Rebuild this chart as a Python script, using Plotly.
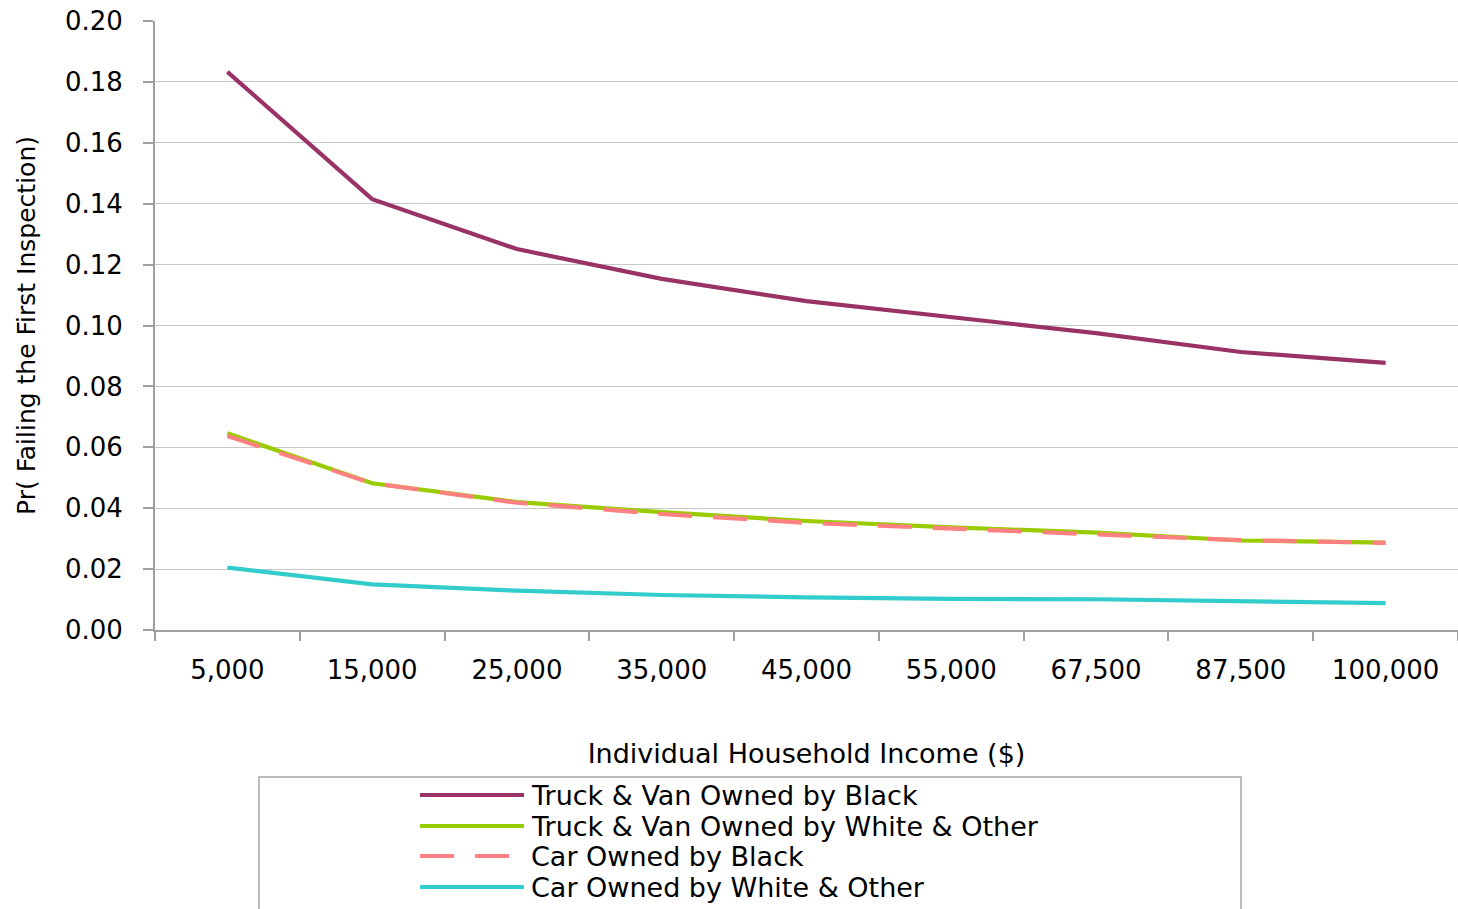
import plotly.graph_objects as go

# Household income categories (x axis)
income = ["5,000", "15,000", "25,000", "35,000", "45,000",
          "55,000", "67,500", "87,500", "100,000"]

# Probability of failing the first inspection, by vehicle type / owner group
truck_black = [0.1833, 0.1415, 0.1251, 0.1153, 0.1080, 0.1028, 0.0975, 0.0913, 0.0877]
truck_white = [0.0646, 0.0482, 0.0420, 0.0387, 0.0358, 0.0337, 0.0320, 0.0294, 0.0287]
car_black = [0.0637, 0.0482, 0.0418, 0.0381, 0.0352, 0.0332, 0.0315, 0.0295, 0.0286]
car_white = [0.0205, 0.0150, 0.0129, 0.0115, 0.0107, 0.0102, 0.0101, 0.0095, 0.0088]

series_names = ["Truck & Van Owned by Black", "Truck & Van Owned by White & Other",
                "Car Owned by Black", "Car Owned by White & Other"]
series_values = [truck_black, truck_white, car_black, car_white]
series_colors = ["#993366", "#99CC00", "#FF8080", "#33CCCC"]
series_dash = ["solid", "solid", "34px,21px", "solid"]

W, H = 1458, 909
ML, MR, MT, MB = 155, 0, 21, 279
PW, PH = W - ML - MR, H - MT - MB
FONT = "DejaVu Sans, Liberation Sans, Arial, sans-serif"


def fx(px):
    return (px - ML) / PW


def fy(py):
    return (H - MB - py) / PH


fig = go.Figure()
for name, vals, col, dash in zip(series_names, series_values, series_colors, series_dash):
    fig.add_trace(go.Scatter(
        x=income, y=vals, name=name, mode="lines",
        line=dict(color=col, width=4.2, dash=dash),
        showlegend=False,
    ))

# Legend box below the plot, drawn with shapes and annotations
shapes = [dict(type="rect", xref="paper", yref="paper",
               x0=fx(259), x1=fx(1241), y0=fy(777), y1=fy(925),
               line=dict(color="#a6a6a6", width=1.5), fillcolor="rgba(0,0,0,0)")]
annotations = []
row_y = [795, 826, 856, 887]
for name, col, dash, ry in zip(series_names, series_colors, series_dash, row_y):
    shapes.append(dict(type="line", xref="paper", yref="paper",
                       x0=fx(420), x1=fx(524), y0=fy(ry), y1=fy(ry),
                       line=dict(color=col, width=4.2, dash=dash)))
    annotations.append(dict(text=name, xref="paper", yref="paper",
                            x=fx(529), y=fy(ry), xanchor="left", yanchor="middle",
                            showarrow=False, font=dict(family=FONT, size=27, color="black")))

fig.update_layout(
    template="none",
    width=W, height=H,
    margin=dict(l=ML, r=MR, t=MT, b=MB, pad=0),
    paper_bgcolor="white", plot_bgcolor="white",
    font=dict(family=FONT, color="black"),
    shapes=shapes, annotations=annotations,
    showlegend=False,
)

fig.update_xaxes(
    type="category", range=[-0.5, len(income) - 0.5], tickson="boundaries",
    ticks="outside", ticklen=9, tickcolor="#a0a0a0", tickwidth=1.5,
    showline=True, linecolor="#a0a0a0", linewidth=2,
    showgrid=False, zeroline=False,
    tickfont=dict(family=FONT, size=26, color="black"),
    ticklabelstandoff=16,
    title=dict(text="Individual Household Income ($)",
               font=dict(family=FONT, size=27, color="black"), standoff=60),
    automargin=False,
)
fig.update_yaxes(
    range=[0, 0.2], dtick=0.02, tickformat=".2f",
    ticks="outside", ticklen=10, tickcolor="#a0a0a0", tickwidth=1.5,
    showline=True, linecolor="#a0a0a0", linewidth=2,
    showgrid=True, gridcolor="#c8c8c8", gridwidth=1, zeroline=False,
    tickfont=dict(family=FONT, size=26, color="black"),
    ticklabelstandoff=15,
    title=dict(text="Pr( Failing the First Inspection)",
               font=dict(family=FONT, size=25, color="black"), standoff=22),
    automargin=False,
)

fig.write_html("out.html")
